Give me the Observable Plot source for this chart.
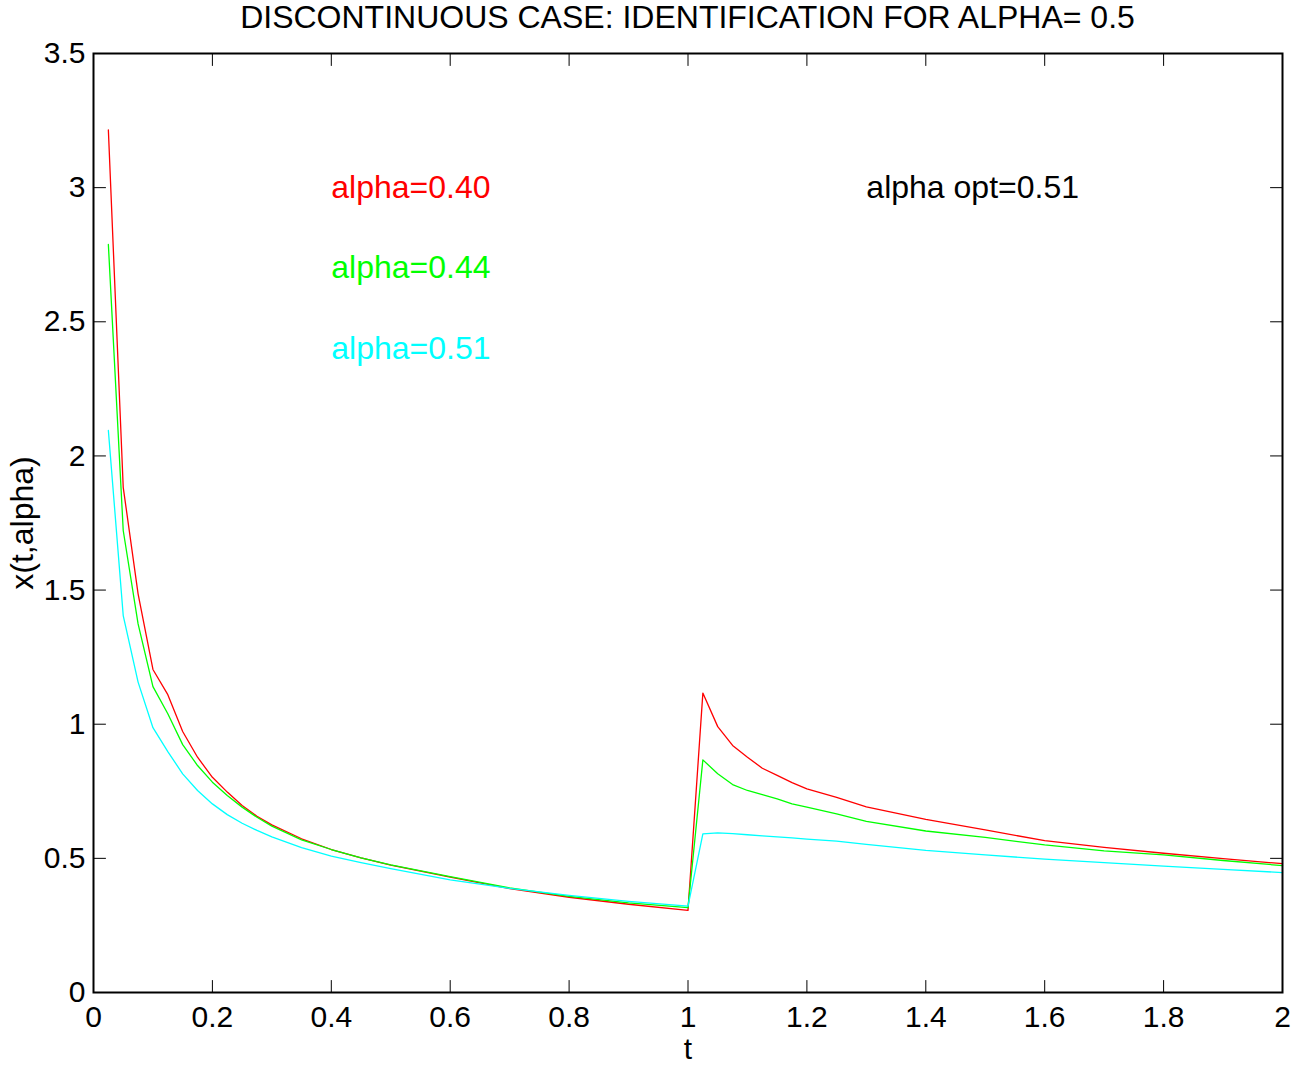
<!DOCTYPE html>
<html>
<head>
<meta charset="utf-8">
<script src="https://cdn.jsdelivr.net/npm/d3@7"></script>
<script src="https://cdn.jsdelivr.net/npm/@observablehq/plot@0.6"></script>
<style>
  body { margin: 0; background: #fff; font-family: "Liberation Sans", Arial, Helvetica, sans-serif; }
  #title { width: 1292px; box-sizing: border-box; padding-left: 93px; padding-right: 10px;
           height: 34px; line-height: 34px; font-size: 32px; text-align: center; color: #000; white-space: nowrap; }
  #chart svg { display: block; }
</style>
</head>
<body>
<div id="title">DISCONTINUOUS CASE: IDENTIFICATION FOR ALPHA= 0.5</div>
<div id="chart"></div>
<script>
// time grid
const t = [0.025,0.05,0.075,0.1,0.125,0.15,0.175,0.2,0.225,0.25,0.275,0.3,0.35,0.4,0.45,0.5,0.6,0.7,0.8,0.9,1.0,
           1.025,1.05,1.075,1.1,1.125,1.15,1.175,1.2,1.25,1.3,1.4,1.5,1.6,1.7,1.8,1.9,2.0];
// x(t,alpha) for alpha = 0.40
const xAlpha040 = [3.215,1.883,1.486,1.204,1.110,0.973,0.877,0.802,0.747,0.697,0.657,0.625,0.573,0.533,0.502,0.475,0.430,0.387,0.355,0.329,0.306,
                   1.116,0.991,0.921,0.877,0.836,0.809,0.782,0.759,0.727,0.692,0.645,0.606,0.566,0.541,0.519,0.499,0.480];
// x(t,alpha) for alpha = 0.44
const xAlpha044 = [2.788,1.722,1.374,1.140,1.039,0.924,0.846,0.784,0.734,0.691,0.653,0.620,0.569,0.533,0.502,0.476,0.432,0.390,0.358,0.334,0.316,
                   0.867,0.815,0.775,0.753,0.738,0.722,0.703,0.691,0.666,0.638,0.602,0.578,0.550,0.528,0.513,0.492,0.473];
// x(t,alpha) for alpha = 0.51
const xAlpha051 = [2.095,1.405,1.157,0.987,0.898,0.815,0.753,0.703,0.663,0.631,0.604,0.580,0.540,0.508,0.484,0.462,0.420,0.388,0.362,0.340,0.322,
                   0.591,0.595,0.592,0.588,0.584,0.580,0.576,0.572,0.564,0.552,0.530,0.513,0.497,0.484,0.471,0.459,0.447];

const seriesNames = ["alpha=0.40", "alpha=0.44", "alpha=0.51"];
const seriesColors = ["#ff0000", "#00ff00", "#00ffff"];

const xTicks = [0,0.2,0.4,0.6,0.8,1,1.2,1.4,1.6,1.8,2];
const yTicks = [0,0.5,1,1.5,2,2.5,3,3.5];

// text annotations (placed in data coordinates, as in the original figure)
const noteText  = ["alpha=0.40", "alpha=0.44", "alpha=0.51", "alpha opt=0.51"];
const noteT     = [0.40, 0.40, 0.40, 1.30];
const noteY     = [3.0, 2.7, 2.4, 3.0];
const noteColor = ["#ff0000", "#00ff00", "#00ffff", "#000000"];

const xLabel = "t";
const yLabel = "x(t,alpha)";

const seriesValues = [xAlpha040, xAlpha044, xAlpha051];
const data = [];
seriesNames.forEach((name, i) => t.forEach((tt, j) => data.push({t: tt, x: seriesValues[i][j], series: name})));
const notes = noteText.map((s, i) => ({text: s, t: noteT[i], y: noteY[i], color: noteColor[i]}));

const tickShape = { draw(context, l) { context.moveTo(0, 0); context.lineTo(0, -l); } };
const fmt = d => String(d);
const FONT = '"Liberation Sans", Arial, Helvetica, sans-serif';

const chart = Plot.plot({
  width: 1292,
  height: 1033,
  marginLeft: 93,
  marginRight: 10,
  marginTop: 19,
  marginBottom: 75,
  style: {fontFamily: FONT, fontSize: "30px", color: "#000", background: "#fff"},
  x: {domain: [0, 2]},
  y: {domain: [0, 3.5]},
  color: {domain: seriesNames, range: seriesColors},
  marks: [
    Plot.line(data, {x: "t", y: "x", z: "series", stroke: "series", strokeWidth: 1.3}),
    Plot.frame({stroke: "#000", strokeWidth: 2}),
    Plot.vector(xTicks, {x: d => d, frameAnchor: "bottom", length: 12, rotate: 0, anchor: "start", shape: tickShape, stroke: "#000", strokeWidth: 1}),
    Plot.vector(xTicks, {x: d => d, frameAnchor: "top", length: 12, rotate: 180, anchor: "start", shape: tickShape, stroke: "#000", strokeWidth: 1}),
    Plot.vector(yTicks, {y: d => d, frameAnchor: "left", length: 12, rotate: 90, anchor: "start", shape: tickShape, stroke: "#000", strokeWidth: 1}),
    Plot.vector(yTicks, {y: d => d, frameAnchor: "right", length: 12, rotate: -90, anchor: "start", shape: tickShape, stroke: "#000", strokeWidth: 1}),
    Plot.axisX(xTicks, {tickSize: 0, tickPadding: 13, tickFormat: fmt, label: null, fontSize: 30}),
    Plot.axisY(yTicks, {tickSize: 0, tickPadding: 8, tickFormat: fmt, label: null, fontSize: 30}),
    Plot.text([xLabel], {text: d => d, frameAnchor: "bottom", textAnchor: "middle", lineAnchor: "middle", dy: 57, fontSize: 30, fill: "#000"}),
    Plot.text([yLabel], {text: d => d, frameAnchor: "left", textAnchor: "middle", lineAnchor: "middle", dx: -71, rotate: -90, fontSize: 32, fill: "#000"}),
    Plot.text(notes, {x: "t", y: "y", text: "text", fill: d => d.color, textAnchor: "start", fontSize: 32})
  ]
});
document.getElementById("chart").appendChild(chart);
</script>
</body>
</html>
